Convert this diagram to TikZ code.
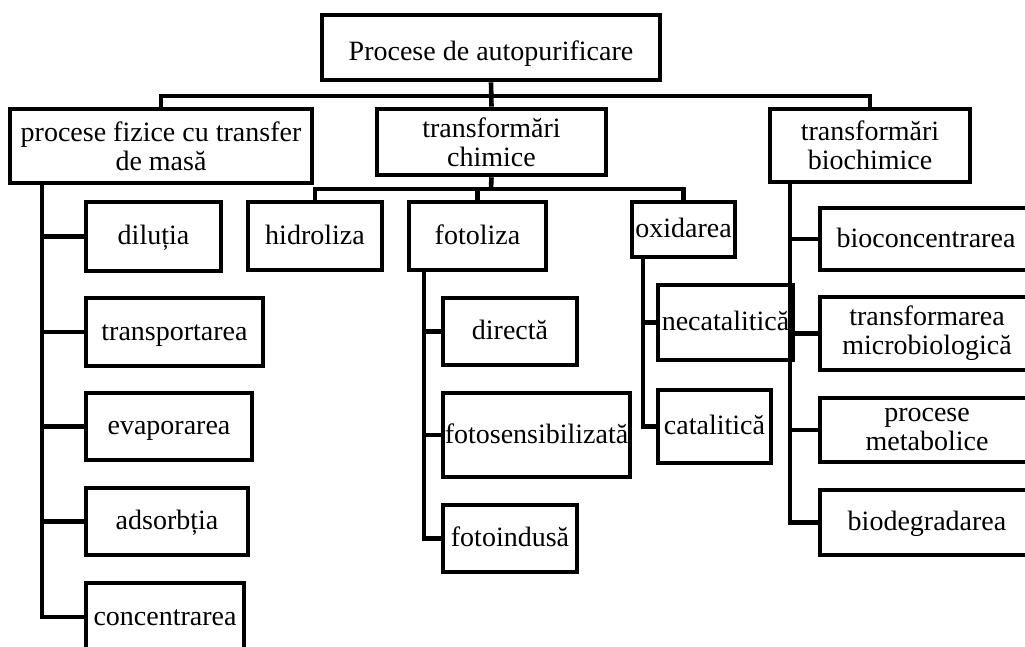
\documentclass[tikz,border=0pt]{standalone}
\usepackage{fontspec}
\setmainfont{Liberation Serif}
% box given by its left, top, right and bottom edges (in pt, y downwards)
\newcommand\procbox[7][]{%
  \node[box, minimum width={#5-#3}, minimum height={#6-#4}, #1] (#2)
    at ({(#3+#5)/2},{(#4+#6)/2}) {#7};}
\begin{document}
\begin{tikzpicture}[x=1pt,y=-1pt,
  box/.style={draw=black, line width=4.6pt, fill=white, inner sep=0pt,
    align=center, font=\fontsize{28}{29}\selectfont,
    text height=22.4pt, text depth=5.6pt},
  twolines/.style={text height={}, text depth={}},
  link/.style={draw=black, line width=4.6pt}]
\useasboundingbox (0,0) rectangle (1025,646);
\clip (0,0) rectangle (1025,646);

% top level
\procbox[text height=26.6pt, text depth=1.4pt]{root}{322}{15}{660}{80}{Procese de autopurificare}
\procbox[twolines]{fiz}{10}{109}{312}{183}{procese fizice cu transfer\\de masă}
\procbox[twolines]{chim}{377}{109}{606}{175}{transformări\\chimice}
\procbox[twolines]{bio}{770}{109}{970}{182}{transformări\\biochimice}

% physical processes
\procbox{dil}{86}{202}{221}{271}{diluția}
\procbox{tra}{86}{298}{263}{366}{transportarea}
\procbox{eva}{86}{393}{252}{460}{evaporarea}
\procbox{ads}{86}{488}{248}{555}{adsorbția}
\procbox{con}{86}{583}{244}{651}{concentrarea}

% chemical transformations
\procbox{hid}{248}{202}{382}{270}{hidroliza}
\procbox{fot}{409}{202}{546}{270}{fotoliza}
\procbox{oxi}{632}{202}{735}{257}{oxidarea}
\procbox{dir}{443}{298}{577}{365}{directă}
\procbox{fsb}{443}{393}{630}{477}{fotosensibilizată}
\procbox{fid}{443}{505}{577}{572}{fotoindusă}
\procbox{nec}{658}{285}{793}{360}{necatalitică}
\procbox{cat}{658}{390}{771}{463}{catalitică}

% biochemical transformations
\procbox{bcc}{820}{208}{1032}{270}{bioconcentrarea}
\procbox[twolines]{mic}{820}{297}{1034}{370}{transformarea\\microbiologică}
\procbox[twolines]{met}{820}{398}{1034}{462}{procese\\metabolice}
\procbox{bdg}{820}{490}{1034}{555}{biodegradarea}

% buses and trunks
\coordinate (busTop) at (491,96);
\coordinate (busChem) at (491,189);
\coordinate (trunkF) at (42,0);
\coordinate (trunkP) at (424,0);
\coordinate (trunkO) at (643,0);
\coordinate (trunkB) at (790,0);

\draw[link] (root.south) -- (chim.north);
\draw[link] (fiz.north) |- (busTop) -| (bio.north);

\draw[link] (chim.south) -- (busChem);
\draw[link] (hid.north) |- (busChem) -| (oxi.north);
\draw[link] (fot.north) -- (fot.north |- busChem);

\draw[link] (fiz.south -| trunkF) |- (con.west);
\foreach \n in {dil,tra,eva,ads}
  \draw[link] (\n.west -| trunkF) -- (\n.west);

\draw[link] (fot.south -| trunkP) |- (fid.west);
\foreach \n in {dir,fsb}
  \draw[link] (\n.west -| trunkP) -- (\n.west);

\draw[link] (oxi.south -| trunkO) |- (cat.west);
\draw[link] (nec.west -| trunkO) -- (nec.west);

\draw[link] (bio.south -| trunkB) |- (bdg.west);
\foreach \n in {bcc,mic,met}
  \draw[link] (\n.west -| trunkB) -- (\n.west);
\end{tikzpicture}
\end{document}
